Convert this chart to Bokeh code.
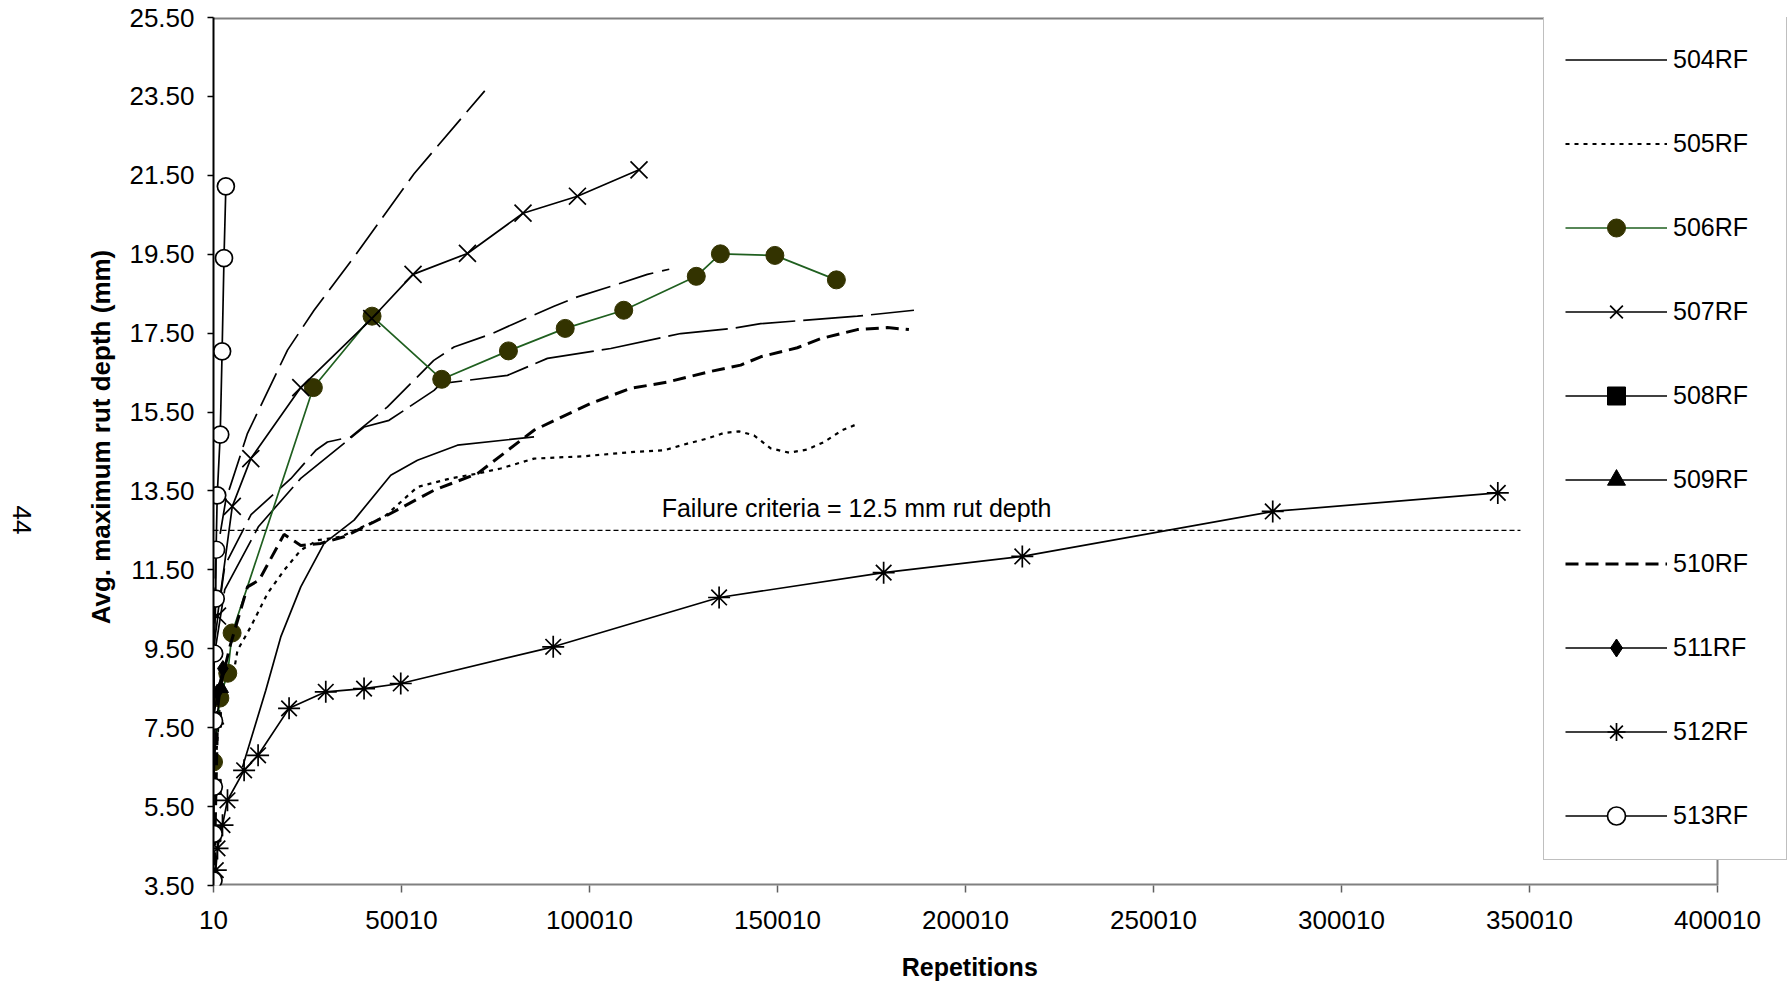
import math
from bokeh.plotting import figure
from bokeh.models import (Range1d, FixedTicker, NumeralTickFormatter, Legend, LegendItem, Label,
                          LinearAxis)
from bokeh.embed import file_html
from bokeh.resources import INLINE

# ---------------- data ----------------
x_ticks = [10, 50010, 100010, 150010, 200010, 250010, 300010, 350010, 400010]
y_ticks = [3.5, 5.5, 7.5, 9.5, 11.5, 13.5, 15.5, 17.5, 19.5, 21.5, 23.5, 25.5]

s504_x = [7720, 11260, 13920, 17900, 23220, 29420, 37400, 47150, 54250, 64890, 85260]
s504_y = [6.5, 7.61, 8.45, 9.80, 11.07, 12.17, 12.76, 13.90, 14.28, 14.66, 14.87]

s505_x = [10, 2000, 5490, 6390, 9930, 14370, 18780, 23220, 27660, 33860, 45370, 54250, 63110,
          70210, 76400, 85260, 98550, 111850, 119830, 126050, 131370, 135780, 139770, 143760,
          148190, 153060, 157950, 162370, 167260, 170800]
s505_y = [5.8, 8.5, 8.96, 9.46, 10.06, 10.90, 11.49, 12.00, 12.25, 12.34, 12.84, 13.60, 13.82,
          13.94, 14.07, 14.32, 14.38, 14.49, 14.53, 14.70, 14.83, 14.97, 15.01, 14.91,
          14.58, 14.47, 14.55, 14.74, 15.04, 15.18]

s506_x = [10, 1700, 3800, 4956, 26570, 42180, 60710, 78450, 93550, 109110, 128410, 134820, 149310, 165670]
s506_y = [6.63, 8.25, 8.88, 9.90, 16.12, 17.93, 16.33, 17.05, 17.62, 18.08, 18.94, 19.51, 19.47, 18.85]

s507_x = [1074, 5010, 9930, 23220, 42100, 53080, 67550, 82330, 96800, 113180]
s507_y = [10.33, 13.11, 14.32, 16.12, 17.87, 18.99, 19.52, 20.54, 20.97, 21.64]

s508_x = [10, 60, 120]
s508_y = [4.8, 6.0, 7.7]

s509_x = [10, 800, 2000]
s509_y = [6.0, 7.7, 8.5]

s510_x = [10, 1200, 4500, 9050, 12140, 18780, 23220, 28540, 34740, 45370, 58670, 70210, 85260,
          100330, 110970, 120730, 132240, 140220, 145540, 155300, 161480, 171250, 179220, 184960]
s510_y = [3.0, 8.3, 9.6, 11.07, 11.24, 12.40, 12.12, 12.17, 12.34, 12.84, 13.52, 13.94, 15.04,
          15.72, 16.10, 16.26, 16.53, 16.69, 16.90, 17.13, 17.36, 17.59, 17.64, 17.59]

s511_x = [10, 1000, 2500]
s511_y = [7.7, 8.4, 9.0]

s512_x = [620, 1074, 2400, 3730, 8150, 11870, 20110, 29870, 40050, 49810, 90360, 134480,
          178240, 215120, 281720, 341580]
s512_y = [3.89, 4.44, 5.03, 5.66, 6.42, 6.80, 7.99, 8.41, 8.49, 8.62, 9.55, 10.80,
          11.43, 11.84, 12.98, 13.45]

s513_x = [10, 50, 100, 150, 200, 600, 700, 1000, 1800, 2300, 2800, 3300]
s513_y = [3.63, 4.81, 6.00, 7.67, 9.38, 10.77, 12.01, 13.39, 14.93, 17.04, 19.40, 21.22]

# further curves drawn in the chart without a legend entry
extra_a_x = [10, 600, 3280, 9050, 19690, 26760, 37400, 53350, 72150]
extra_a_y = [9.0, 11.74, 13.27, 14.96, 17.07, 18.08, 19.43, 21.54, 23.64]

extra_b_x = [10, 3000, 10000, 20570, 27210, 30320, 36520, 46280, 58590, 63980, 74190, 79940,
             90570, 96800, 106530, 115400, 121220]
extra_b_y = [9.5, 11.6, 12.9, 13.81, 14.53, 14.74, 14.87, 15.63, 16.81, 17.15, 17.49, 17.74,
             18.18, 18.42, 18.71, 18.99, 19.12]

extra_c_x = [10, 3000, 12000, 23220, 40060, 46700, 58670, 60450, 78190, 88820, 105650, 124270,
             138010, 145540, 171250, 186300]
extra_c_y = [9.2, 11.0, 12.6, 13.82, 15.12, 15.29, 16.05, 16.22, 16.43, 16.86, 17.11, 17.49,
             17.62, 17.74, 17.93, 18.08]

fail_x = [10, 347600]
fail_y = [12.5, 12.5]
fail_text = "Failure criteria = 12.5 mm rut depth"
page_number = "44"
y_title = "Avg. maximum rut depth (mm)"
x_title = "Repetitions"

X_MIN, X_AXIS_END = 10, 400010
Y_MIN, Y_MAX = 3.5, 25.5

# ---------------- figure ----------------
FONT = "Liberation Sans"
NB = "\u00a0"
W, H = 1788, 984
FL, FT, FB = 213, 17, 885          # frame left / top / bottom in px
X_END = X_MIN + (W - FL) * (X_AXIS_END - X_MIN) / (1717 - FL)

p = figure(width=W, height=H, x_range=Range1d(X_MIN, X_END), y_range=Range1d(Y_MIN, Y_MAX),
           output_backend="svg", toolbar_location=None,
           min_border_left=FL, min_border_right=0, min_border_top=FT, min_border_bottom=H - FB)
p.grid.grid_line_color = None
p.outline_line_color = None
p.background_fill_color = "white"
p.border_fill_color = "white"

p.xaxis.ticker = FixedTicker(ticks=x_ticks)
p.xaxis.formatter = NumeralTickFormatter(format="0")
p.yaxis.ticker = FixedTicker(ticks=y_ticks)
p.yaxis.formatter = NumeralTickFormatter(format="0.00")
for ax in (p.xaxis, p.yaxis):
    ax.major_label_text_font = FONT
    ax.major_label_text_font_size = "26px"
    ax.major_label_text_color = "black"
    ax.minor_tick_line_color = None
    ax.major_tick_in = 0
    ax.major_tick_line_width = 1.5
    ax.axis_label_text_font = FONT
    ax.axis_label_text_font_style = "bold"
    ax.axis_label_text_color = "black"
p.xaxis.axis_line_color = None
p.xaxis.major_tick_line_color = "#606060"
p.xaxis.major_tick_out = 7
p.xaxis.major_label_standoff = 18
# the frame runs on under the legend; trailing spaces centre the title under the axis
p.xaxis.axis_label = x_title + NB * 9
p.xaxis.axis_label_text_font_size = "25px"
p.xaxis.axis_label_standoff = 21
p.yaxis.axis_line_color = "black"
p.yaxis.axis_line_width = 2
p.yaxis.major_tick_line_color = "black"
p.yaxis.major_tick_out = 6
p.yaxis.major_label_standoff = 13
p.yaxis.axis_label = NB * 4 + y_title
p.yaxis.axis_label_text_font_size = "26px"
p.yaxis.axis_label_standoff = 10

# page number, rotated, far left
PN_POS = 12.40
pn_axis = LinearAxis(ticker=FixedTicker(ticks=[PN_POS]), axis_line_color=None,
                     major_tick_line_color=None, minor_tick_line_color=None,
                     major_label_overrides={PN_POS: page_number},
                     major_label_orientation=-math.pi / 2, major_label_standoff=56,
                     major_label_text_font=FONT, major_label_text_font_size="26px",
                     major_label_text_color="black")
p.add_layout(pn_axis, "left")

# plot frame lines (bottom axis line, top border, right border)
p.line([X_MIN, X_AXIS_END], [Y_MIN, Y_MIN], line_color="#808080", line_width=4)
p.line([X_MIN, X_AXIS_END], [Y_MAX, Y_MAX], line_color="#808080", line_width=4)
p.line([X_AXIS_END, X_AXIS_END], [Y_MIN, Y_MAX], line_color="#808080", line_width=2)

LW = 1.7
LONG = "36 9"

# unlabeled curves
p.line(extra_a_x, extra_a_y, line_color="black", line_width=LW, line_dash=LONG)
p.line(extra_b_x, extra_b_y, line_color="black", line_width=LW, line_dash=LONG)
p.line(extra_c_x, extra_c_y, line_color="black", line_width=LW, line_dash="60 8")

# failure criteria
p.line(fail_x, fail_y, line_color="black", line_width=1.2, line_dash="5 3")

r504 = p.line(s504_x, s504_y, line_color="black", line_width=LW)
r505 = p.line(s505_x, s505_y, line_color="black", line_width=2.2, line_dash="4 5")
r506l = p.line(s506_x, s506_y, line_color="#1f5f1f", line_width=LW)
r506m = p.scatter(s506_x, s506_y, marker="circle", size=18, fill_color="#333300", line_color="#333300")
r507l = p.line(s507_x, s507_y, line_color="black", line_width=LW)
r507m = p.scatter(s507_x, s507_y, marker="x", size=24, line_color="black", line_width=1.7)
r508l = p.line(s508_x, s508_y, line_color="black", line_width=LW)
r508m = p.scatter(s508_x, s508_y, marker="square", size=15, fill_color="black", line_color="black")
r509l = p.line(s509_x, s509_y, line_color="black", line_width=LW)
r509m = p.scatter(s509_x, s509_y, marker="triangle", size=15, fill_color="black", line_color="black")
r510 = p.line(s510_x, s510_y, line_color="black", line_width=3, line_dash="13 7")
r511l = p.line(s511_x, s511_y, line_color="black", line_width=LW)
r511m = p.scatter(s511_x, s511_y, marker="diamond", size=16, fill_color="black", line_color="black")
r512l = p.line(s512_x, s512_y, line_color="black", line_width=LW)
r512m = p.scatter(s512_x, s512_y, marker="asterisk", size=22, line_color="black", line_width=1.7)
r513l = p.line(s513_x, s513_y, line_color="black", line_width=LW)
r513m = p.scatter(s513_x, s513_y, marker="circle", size=17, fill_color="white", line_color="black", line_width=1.7)

items = [
    LegendItem(label="504RF", renderers=[r504]),
    LegendItem(label="505RF", renderers=[r505]),
    LegendItem(label="506RF", renderers=[r506l, r506m]),
    LegendItem(label="507RF", renderers=[r507l, r507m]),
    LegendItem(label="508RF", renderers=[r508l, r508m]),
    LegendItem(label="509RF", renderers=[r509l, r509m]),
    LegendItem(label="510RF", renderers=[r510]),
    LegendItem(label="511RF", renderers=[r511l, r511m]),
    LegendItem(label="512RF", renderers=[r512l, r512m]),
    LegendItem(label="513RF", renderers=[r513l, r513m]),
]
legend = Legend(items=items, location=(1543 - FL, FB - 860), orientation="vertical",
                padding=21, spacing=39, glyph_width=102, glyph_height=45,
                label_height=45, label_width=92, label_standoff=6, margin=0,
                border_line_color="#808080", border_line_width=1.5,
                background_fill_color="white", background_fill_alpha=1.0,
                label_text_font=FONT, label_text_font_size="25px",
                label_text_color="black", label_text_baseline="middle")
p.add_layout(legend)

p.add_layout(Label(x=119210, y=13.06, text=fail_text, text_font=FONT, text_font_size="25px",
                   text_align="left", text_baseline="middle", text_color="black"))

open("out.html", "w").write(file_html(p, INLINE))
